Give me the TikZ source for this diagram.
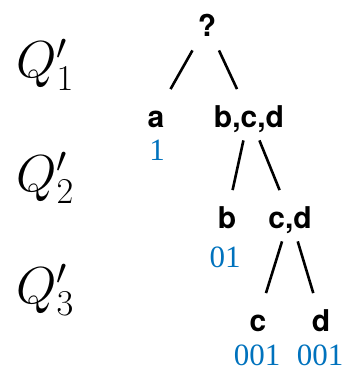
\documentclass[tikz,border=0pt]{standalone}
\usepackage{fix-cm}
\usepackage{fontspec}
\usepackage{xcolor}
\newfontfamily\helv{TeX Gyre Heros}
\newfontfamily\tms{Liberation Serif}
\definecolor{bitblue}{RGB}{0,114,189}
\tikzset{
  sym/.style={font=\helv\bfseries\fontsize{15}{18}\selectfont,anchor=base,inner sep=0pt,text height=18.75pt,text depth=6.5pt,minimum width=30pt},
  bits/.style={font=\tms\fontsize{15.5}{18}\selectfont,text=bitblue,anchor=base,inner sep=0pt},
  level/.style={font=\fontsize{26}{30}\selectfont,anchor=base west,inner sep=0pt},
  branch/.style={line width=1.3pt}
}

\begin{document}
\begin{tikzpicture}[x=.5pt,y=-.5pt]
\useasboundingbox (0,0) rectangle (348,369);
\node[level] (l1) at (16,78) {$Q'_1$};
\node[level] (l2) at (16,191) {$Q'_2$};
\node[level] (l3) at (16,303) {$Q'_3$};
\node[sym] (root) at (207,37) {?};
\node[sym] (a) at (156,127) {a};
\node[sym] (bcd) at (249,127) {b,c,d};
\node[sym] (b) at (227,228) {b};
\node[sym] (cd) at (290,228) {c,d};
\node[sym] (c) at (258,331) {c};
\node[sym] (d) at (321,331) {d};
\node[bits] (ka) at (157,160) {1};
\node[bits] (kb) at (225,267) {01};
\node[bits] (kc) at (257,365) {001};
\node[bits] (kd) at (320,365) {001};
\foreach \p/\q in {root/a,root/bcd,bcd/b,bcd/cd,cd/c,cd/d} \draw[branch] (\p)--(\q);
\end{tikzpicture}
\end{document}
